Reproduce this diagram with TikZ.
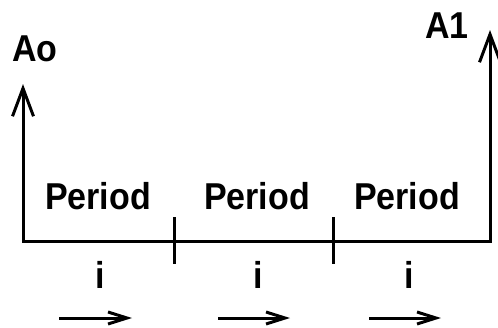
\documentclass[tikz,border=0pt]{standalone}
\usepackage{fontspec}
\setmainfont{Liberation Sans}
\usetikzlibrary{arrows.meta}
\begin{document}
\begin{tikzpicture}[x=1pt,y=-1pt,
  lbl/.style={font=\fontsize{34}{34}\selectfont\bfseries, inner sep=0pt, anchor=base, yscale=1.1},
  ln/.style={line width=3pt},
  bigarr/.style={ln, -{Straight Barb[length=28pt,width=21pt,line width=3pt]}},
  smallarr/.style={ln, -{Straight Barb[length=19pt,width=12pt,line width=3pt]}}]
\useasboundingbox (0,0) rectangle (498,327);
% frame
\coordinate (L0) at (23,241);
\coordinate (R0) at (490,241);
\coordinate (Ltop) at (23,84);
\coordinate (Rtop) at (490,30);
\draw[ln, line cap=rect] (L0) -- (R0);
\draw[bigarr] (L0) -- (Ltop);
\draw[bigarr] (R0) -- (Rtop);
% ticks
\coordinate (t1a) at (174,217); \coordinate (t1b) at (174,264);
\coordinate (t2a) at (333,217); \coordinate (t2b) at (333,264);
\draw[ln] (t1a) -- (t1b);
\draw[ln] (t2a) -- (t2b);
% labels
\node[lbl] (ao) at (35,61) {Ao};
\node[lbl] (a1) at (447,38) {A1};
\node[lbl] (p1) at (98,209) {Period};
\node[lbl] (p2) at (257,209) {Period};
\node[lbl] (p3) at (407,209) {Period};
\node[lbl] (i1) at (100,288) {i};
\node[lbl] (i2) at (258,288) {i};
\node[lbl] (i3) at (409,288) {i};
% arrows
\coordinate (a1s) at (59,318); \coordinate (a1e) at (132,318);
\coordinate (a2s) at (218,318); \coordinate (a2e) at (290,318);
\coordinate (a3s) at (369,318); \coordinate (a3e) at (441,318);
\draw[smallarr] (a1s) -- (a1e);
\draw[smallarr] (a2s) -- (a2e);
\draw[smallarr] (a3s) -- (a3e);
\end{tikzpicture}
\end{document}
